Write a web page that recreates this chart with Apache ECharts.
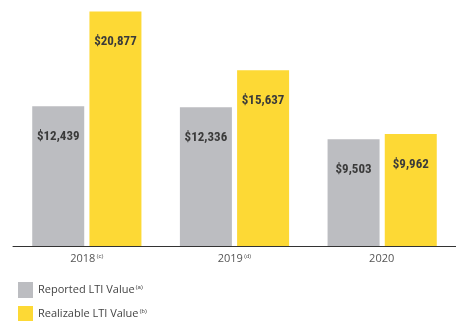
<!DOCTYPE html>
<html><head><meta charset="utf-8">
<script src="https://cdn.jsdelivr.net/npm/echarts@6/dist/echarts.min.js"></script>
<style>html,body{margin:0;padding:0;background:#fff}#c{width:456px;height:321px}</style>
</head><body><div id="c"></div>
<script>
const categories = ['2018', '2019', '2020'];
const categoryNotes = ['(c)', '(d)', ''];
const seriesNames = ['Reported LTI Value', 'Realizable LTI Value'];
const seriesNotes = ['(a)', '(b)'];
const reported = [12439, 12336, 9503];
const realizable = [20877, 15637, 9962];

const chart = echarts.init(document.getElementById('c'));
const labelFont = '"Liberation Sans Narrow", "Roboto Condensed", "DejaVu Sans Condensed", sans-serif';
function valLabel(p){ return '$' + p.value.toLocaleString('en-US'); }
const barLabel = {show:true, position:'insideTop', distance:24, formatter:valLabel,
  color:'#3a3a3a', fontFamily:labelFont, fontWeight:'bold', fontSize:13};
function legendFor(i, top){
  return {orient:'horizontal', left:13, top:top, itemWidth:15, itemHeight:16,
    icon:'rect', data:[seriesNames[i]],
    formatter:(n)=>'{n|'+n+'}{s|'+seriesNotes[i]+'}',
    textStyle:{rich:{n:{fontSize:11, color:'#444', fontFamily:'"Open Sans", sans-serif'},
      s:{fontSize:6, color:'#444', verticalAlign:'top', padding:[0,0,6,1]}}}};
}
chart.setOption({
  animation:false,
  grid:{left:13, right:-4, top:10, bottom:75, containLabel:false},
  xAxis:{type:'category', data:categories,
    axisLine:{lineStyle:{color:'#333', width:1}}, axisTick:{show:false},
    axisLabel:{margin:7, formatter:(v,i)=>'{y|'+v+'}{s|'+categoryNotes[i]+'}',
      rich:{y:{fontSize:11, color:'#555', fontFamily:'"Open Sans", sans-serif'},
            s:{fontSize:6, color:'#555', verticalAlign:'top', padding:[0,0,6,1]}}}},
  yAxis:{type:'value', min:0, max:21000, show:false, splitLine:{show:false}},
  legend:[legendFor(0, 277), legendFor(1, 301)],
  series:[
    {name:seriesNames[0], type:'bar', data:reported, barWidth:52, barGap:'10%',
     itemStyle:{color:'#bcbdc1'}, label:barLabel},
    {name:seriesNames[1], type:'bar', data:realizable, barWidth:52, barGap:'10%',
     itemStyle:{color:'#fdd935'}, label:barLabel}
  ]
});
</script></body></html>
